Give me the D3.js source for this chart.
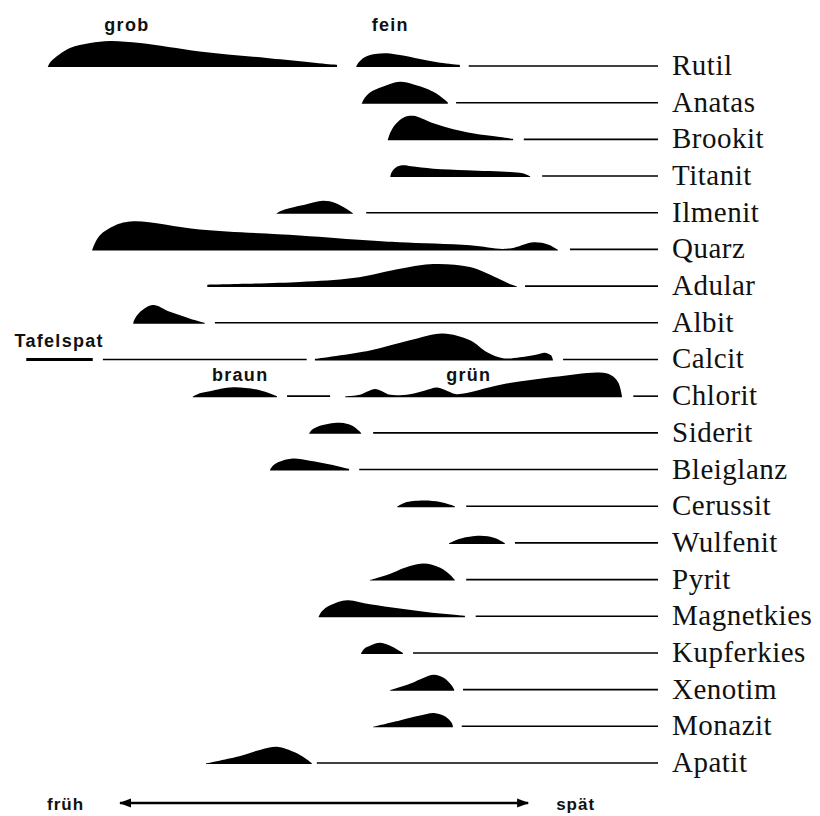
<!DOCTYPE html>
<html>
<head>
<meta charset="utf-8">
<script src="https://cdn.jsdelivr.net/npm/d3@7"></script>
<style>
  html, body { margin: 0; padding: 0; background: #fff; }
  svg { display: block; }
</style>
</head>
<body>
<svg id="chart" width="820" height="816"></svg>
<script>
// Minerals, top to bottom
const minerals = ["Rutil", "Anatas", "Brookit", "Titanit", "Ilmenit", "Quarz", "Adular",
  "Albit", "Calcit", "Chlorit", "Siderit", "Bleiglanz", "Cerussit", "Wulfenit", "Pyrit",
  "Magnetkies", "Kupferkies", "Xenotim", "Monazit", "Apatit"];

// Crystallisation profiles: [relative time 0 (früh) … 100 (spät), relative abundance]
const rutilGrob   = [[3.6,0],[3.9,1.3],[4.7,3],[7.1,6.3],[10.3,8],[13.4,8.7],[18.2,8],[27.6,5.2],[38.2,3],[48.7,0.8],[49.3,0.7]];
const rutilFein   = [[52.3,0],[52.7,1.5],[53.6,3.2],[55.3,4.3],[57.2,4.6],[59.2,4],[62.4,2.7],[65.6,1.4],[68.7,0.7]];
const anatas      = [[53.2,0],[53.6,1.7],[54.5,3.7],[56.6,5.7],[59.2,7.3],[61.3,6.5],[64.5,4],[66.2,1.5],[66.8,0.4]];
const brookit     = [[57.3,0],[57.7,2.5],[58.6,5.5],[59.9,7.7],[61.3,8.2],[62.7,7.3],[64.5,5.7],[69.8,2.7],[75,1.1],[77.1,0.5]];
const titanit     = [[57.7,0],[57.9,1.5],[58.6,3.2],[59.6,3.9],[61.0,3.6],[64.5,2.8],[69.8,2.3],[76.6,1.7],[78.6,1.3],[79.8,0.3]];
const ilmenit     = [[39.7,0],[40.3,0.8],[41.9,1.9],[44.2,3],[47.1,4.3],[49.0,3.6],[50.5,2],[51.8,0.2]];
const quarz       = [[10.6,0],[10.9,1.7],[11.8,5],[14.2,8.3],[17.1,9.7],[27.6,7],[43.4,5],[54.5,3.3],[59.2,2.7],[70.3,1.7],[75.5,0.5],[77.4,1],[80.3,2.7],[82.6,2],[84.2,0.2]];
const adular      = [[28.8,0.8],[43.4,1.7],[51.8,3],[59.7,6.3],[64.5,7.7],[70.3,6.7],[74.6,3],[76.6,1],[77.7,0.2]];
const albit       = [[17.1,0],[17.2,1],[18.2,4],[20.2,6.3],[22.9,4],[26.1,1.7],[28.4,0.3]];
const calcit      = [[45.8,0.5],[54.5,3.3],[60.8,6.7],[66.0,9],[70.3,6.7],[73.0,2.7],[75.5,0.7],[78.2,1.1],[80.9,2],[82.1,2.6],[83.1,1.7],[83.4,0.2]];
const chloritBraun = [[26.5,0.2],[27.6,1.3],[29.2,2],[32.9,3.3],[37.1,2.3],[39.8,0.3]];
const chloritGruen = [[50.6,0.3],[52.9,0.8],[54.2,2],[55.3,2.7],[56.4,2],[57.7,0.8],[60.8,1],[63.2,2.2],[65.1,3.2],[66.8,2],[68.2,1],[75.5,4.3],[83.4,6.7],[90.8,8.2],[92.6,7.3],[93.7,5],[94.3,0.5]];
const siderit     = [[44.9,0.2],[45.3,1.3],[46.6,2.7],[49.8,3.7],[51.7,2.7],[53.1,0.3]];
const bleiglanz   = [[38.7,0.2],[39.2,1.7],[40.3,3],[42.3,4],[45.0,3.3],[48.2,2],[51.2,0.5]];
const cerussit    = [[58.8,0.2],[60,1.5],[62.9,2.2],[65.6,1.7],[67.9,0.3]];
const wulfenit    = [[67,0.2],[68.7,1.7],[71.9,2.7],[74.2,2],[75.8,0.3]];
const pyrit       = [[54.5,0.2],[57.7,2.3],[60.0,4.3],[62.9,5.7],[65.6,4.3],[67.1,2],[67.9,0.2]];
const magnetkies  = [[46.4,0.2],[46.9,2],[48.2,4],[50.9,5.7],[54.5,4.3],[59.2,2.9],[64.0,1.6],[69.5,0.5]];
const kupferkies  = [[53.1,0.2],[53.6,1.7],[54.5,2.7],[56.1,3.7],[58.1,2.3],[59.7,0.3]];
const xenotim     = [[57.7,0.2],[60.8,2.3],[63.2,4.5],[64.6,5.3],[66.2,4.2],[67.5,1.5],[67.8,0.3]];
const monazit     = [[55,0.2],[59.2,2.3],[62.4,3.9],[64.6,4.8],[66.4,3.6],[67.4,1.5],[67.6,0.3]];
const apatit      = [[28.6,0.2],[34,2.7],[37.1,4.7],[40,5.7],[42.7,3.8],[44.2,2],[45.3,0.3]];

const profiles = [
  ["Rutil", rutilGrob], ["Rutil", rutilFein], ["Anatas", anatas], ["Brookit", brookit],
  ["Titanit", titanit], ["Ilmenit", ilmenit], ["Quarz", quarz], ["Adular", adular],
  ["Albit", albit], ["Calcit", calcit], ["Chlorit", chloritBraun], ["Chlorit", chloritGruen],
  ["Siderit", siderit], ["Bleiglanz", bleiglanz], ["Cerussit", cerussit], ["Wulfenit", wulfenit],
  ["Pyrit", pyrit], ["Magnetkies", magnetkies], ["Kupferkies", kupferkies], ["Xenotim", xenotim],
  ["Monazit", monazit], ["Apatit", apatit]
];

// Spans of minor occurrence: [mineral, from, to]
const traces = [
  ["Rutil", 70.1, 100], ["Anatas", 68.1, 100], ["Brookit", 78.8, 100], ["Titanit", 81.7, 100],
  ["Ilmenit", 53.9, 100], ["Quarz", 86.1, 100], ["Adular", 79.0, 100], ["Albit", 30.0, 100],
  ["Calcit", 12.3, 44.5], ["Calcit", 85.0, 100], ["Chlorit", 41.4, 48.2], ["Chlorit", 96.1, 100],
  ["Siderit", 55.0, 100], ["Bleiglanz", 52.8, 100], ["Cerussit", 69.7, 100], ["Wulfenit", 77.4, 100],
  ["Pyrit", 69.7, 100], ["Magnetkies", 71.2, 100], ["Kupferkies", 61.3, 100], ["Xenotim", 69.2, 100],
  ["Monazit", 69.0, 100], ["Apatit", 46.1, 100]
];
// Tafelspat (Calcit) early generation
const heavyTraces = [["Calcit", 0.2, 10.7]];

// Variety notes: [text, time, mineral, lift in row steps]
const notes = [
  ["grob", 16.1, "Rutil", 0.95],
  ["fein", 57.7, "Rutil", 0.95],
  ["Tafelspat", 5.4, "Calcit", 0.35],
  ["braun", 34.0, "Chlorit", 0.41],
  ["grün", 70.1, "Chlorit", 0.41]
];

// Time direction
const timeArrow = [14.7, 79.8];
const timeLabels = ["früh", "spät"];

const svg = d3.select("#chart");

const x = d3.scaleLinear().domain([0, 100]).range([25, 658]);
const y = d3.scalePoint().domain(minerals).range([66, 763]);
const h = d3.scaleLinear().domain([0, 10]).range([0, 30]);
const step = y.step();

const area = d3.area()
  .x(d => x(d[0]))
  .y0(0)
  .y1(d => -h(d[1]))
  .curve(d3.curveCatmullRom.alpha(0.5));

// thin occurrence lines
svg.append("g")
  .selectAll("line")
  .data(traces)
  .join("line")
  .attr("x1", d => x(d[1]))
  .attr("x2", d => x(d[2]))
  .attr("y1", d => y(d[0]))
  .attr("y2", d => y(d[0]))
  .attr("stroke", "#000")
  .attr("stroke-width", 1.6);

svg.append("g")
  .selectAll("line")
  .data(heavyTraces)
  .join("line")
  .attr("x1", d => x(d[1]))
  .attr("x2", d => x(d[2]))
  .attr("y1", d => y(d[0]))
  .attr("y2", d => y(d[0]))
  .attr("stroke", "#000")
  .attr("stroke-width", 3);

// abundance profiles
svg.append("g")
  .selectAll("path")
  .data(profiles)
  .join("path")
  .attr("transform", d => `translate(0,${y(d[0]) + 1})`)
  .attr("d", d => area(d[1]))
  .attr("fill", "#000");

// mineral names
svg.append("g")
  .selectAll("text")
  .data(minerals)
  .join("text")
  .attr("x", x.range()[1] + 14)
  .attr("y", d => y(d) + 9)
  .attr("font-family", "'Liberation Serif', 'Times New Roman', serif")
  .attr("font-size", 29)
  .attr("letter-spacing", 0.5)
  .attr("fill", "#111")
  .text(d => d);

// variety notes
svg.append("g")
  .selectAll("text")
  .data(notes)
  .join("text")
  .attr("x", d => x(d[1]))
  .attr("y", d => y(d[2]) - d[3] * step)
  .attr("text-anchor", "middle")
  .attr("font-family", "'Liberation Sans', Arial, sans-serif")
  .attr("font-weight", "bold")
  .attr("font-size", 18)
  .attr("letter-spacing", 1.3)
  .attr("fill", "#111")
  .text(d => d[0]);

// früh ↔ spät arrow
const arrowY = y(minerals[minerals.length - 1]) + 40;
const defs = svg.append("defs");
["head", "tail"].forEach(id => {
  defs.append("marker")
    .attr("id", id)
    .attr("viewBox", "0 0 12 10")
    .attr("refX", 11)
    .attr("refY", 5)
    .attr("markerWidth", 12)
    .attr("markerHeight", 10)
    .attr("markerUnits", "userSpaceOnUse")
    .attr("orient", "auto-start-reverse")
    .append("path")
    .attr("d", "M0,0.5 L12,5 L0,9.5 Z")
    .attr("fill", "#000");
});
svg.append("line")
  .attr("x1", x(timeArrow[0]) + 2)
  .attr("x2", x(timeArrow[1]) - 2)
  .attr("y1", arrowY)
  .attr("y2", arrowY)
  .attr("stroke", "#000")
  .attr("stroke-width", 2.6)
  .attr("marker-start", "url(#tail)")
  .attr("marker-end", "url(#head)");

svg.append("text")
  .attr("x", x(timeArrow[0]) - 34)
  .attr("y", arrowY + 7)
  .attr("text-anchor", "end")
  .attr("font-family", "'Liberation Sans', Arial, sans-serif")
  .attr("font-weight", "bold")
  .attr("font-size", 17)
  .attr("letter-spacing", 1)
  .attr("fill", "#111")
  .text(timeLabels[0]);
svg.append("text")
  .attr("x", x(timeArrow[1]) + 26)
  .attr("y", arrowY + 7)
  .attr("font-family", "'Liberation Sans', Arial, sans-serif")
  .attr("font-weight", "bold")
  .attr("font-size", 17)
  .attr("letter-spacing", 1)
  .attr("fill", "#111")
  .text(timeLabels[1]);
</script>
</body>
</html>
